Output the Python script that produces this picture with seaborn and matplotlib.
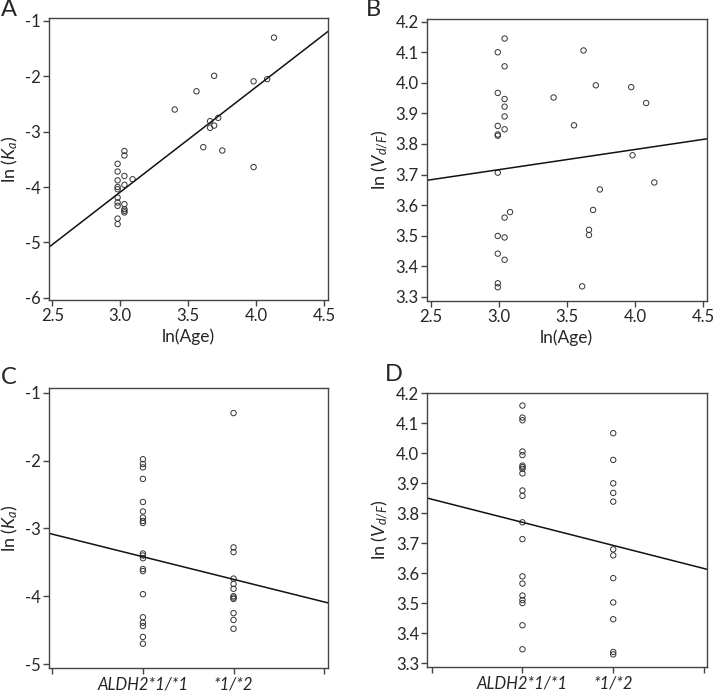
import numpy as np
import pandas as pd
import matplotlib
matplotlib.use("Agg")
import matplotlib.pyplot as plt
import seaborn as sns

# --- values ---
# panel A: ln(Age) vs ln(Ka)
a_ln_age = [4.13, 3.69, 3.56, 3.98, 4.08, 3.40, 3.72, 3.66, 3.69, 3.66, 3.61, 3.75, 3.98,
            2.98, 2.98, 2.98, 2.98, 2.98, 2.98, 2.98, 2.98, 2.98, 2.98,
            3.03, 3.03, 3.03, 3.03, 3.03, 3.03, 3.03, 3.03, 3.09]
a_ln_ka = [-1.30, -1.99, -2.27, -2.09, -2.05, -2.60, -2.75, -2.81, -2.89, -2.93, -3.28, -3.34, -3.64,
           -3.58, -3.72, -3.88, -4.00, -4.04, -4.19, -4.28, -4.34, -4.57, -4.67,
           -3.35, -3.43, -3.80, -3.96, -4.31, -4.40, -4.43, -4.46, -3.86]

# panel B: ln(Age) vs ln(Vd/F)
b_ln_age = [3.04, 2.99, 3.04, 2.99, 3.04, 3.04, 3.04, 2.99, 3.04, 2.99,
            2.99, 2.99, 3.08, 3.04, 2.99, 3.04, 2.99, 3.04, 2.99, 2.99,
            3.62, 3.71, 3.40, 3.55, 3.97, 4.08, 3.98, 4.14, 3.74, 3.69,
            3.66, 3.66, 3.61]
b_ln_vd = [4.145, 4.100, 4.054, 3.967, 3.947, 3.922, 3.890, 3.859, 3.848, 3.831,
           3.827, 3.706, 3.577, 3.559, 3.499, 3.494, 3.441, 3.421, 3.344, 3.331,
           4.106, 3.992, 3.952, 3.861, 3.986, 3.934, 3.763, 3.674, 3.651, 3.584,
           3.519, 3.502, 3.334]

# panels C/D: by ALDH2 genotype (1 = *1/*1, 2 = *1/*2)
c_wt = [-1.98, -2.05, -2.10, -2.27, -2.61, -2.75, -2.84, -2.89, -2.92, -3.37,
        -3.40, -3.44, -3.60, -3.63, -3.97, -4.31, -4.39, -4.44, -4.60, -4.70]
c_het = [-1.30, -3.28, -3.35, -3.74, -3.82, -3.89, -4.00, -4.02, -4.04, -4.25, -4.35, -4.48]
d_wt = [4.159, 4.119, 4.110, 4.006, 3.994, 3.959, 3.954, 3.948, 3.933, 3.876,
        3.858, 3.770, 3.714, 3.590, 3.566, 3.526, 3.511, 3.501, 3.427, 3.347]
d_het = [4.067, 3.978, 3.900, 3.868, 3.839, 3.680, 3.660, 3.584, 3.503, 3.447, 3.338, 3.330]
geno_ticks = [0, 1, 2, 3]
geno_labels = ["", "ALDH2*1/*1", "*1/*2", ""]

# fitted lines (intercept, slope)
fit_a = (-9.79, 1.90)
fit_b = (3.518, 0.066)
fit_c = (-3.085, -0.333)
fit_d = (3.847, -0.077)

df_c = pd.DataFrame({"geno": [1] * len(c_wt) + [2] * len(c_het), "val": c_wt + c_het})
df_d = pd.DataFrame({"geno": [1] * len(d_wt) + [2] * len(d_het), "val": d_wt + d_het})

sns.set_style("white")
plt.rcParams["font.family"] = ["Lato", "DejaVu Sans"]
plt.rcParams["mathtext.fontset"] = "custom"
plt.rcParams["mathtext.it"] = "Lato:italic"
plt.rcParams["mathtext.rm"] = "Lato"

fig = plt.figure(figsize=(7.13, 6.95), dpi=100)
ax_a = fig.add_axes([0.0694, 0.5683, 0.3906, 0.4058])
ax_b = fig.add_axes([0.5985, 0.5669, 0.3927, 0.4058])
ax_c = fig.add_axes([0.0692, 0.0388, 0.3906, 0.4024])
ax_d = fig.add_axes([0.5993, 0.0399, 0.3927, 0.3951])

pt = dict(marker="o", s=15, facecolor="none", edgecolor="#333333", linewidth=0.7)

sns.scatterplot(x=a_ln_age, y=a_ln_ka, ax=ax_a, **pt)
sns.scatterplot(x=b_ln_age, y=b_ln_vd, ax=ax_b, **pt)
sns.scatterplot(data=df_c, x="geno", y="val", ax=ax_c, **pt)
sns.scatterplot(data=df_d, x="geno", y="val", ax=ax_d, **pt)

for ax, fit in [(ax_a, fit_a), (ax_b, fit_b), (ax_c, fit_c), (ax_d, fit_d)]:
    ax.axline((0, fit[0]), slope=fit[1], color="#111111", lw=1.1)

ax_a.set_xlim(2.479, 4.527)
ax_a.set_ylim(-6.042, -0.946)
ax_a.set_yticks([-6, -5, -4, -3, -2, -1])
ax_a.set_yticklabels(["-6", "-5", "-4", "-3", "-2", "-1"])

ax_b.set_xlim(2.468, 4.525)
ax_b.set_ylim(3.286, 4.209)
ax_b.set_yticks(np.arange(3.3, 4.21, 0.1))

for ax in (ax_a, ax_b):
    ax.set_xticks([2.5, 3.0, 3.5, 4.0, 4.5])
    ax.set_xticklabels(["2.5", "3.0", "3.5", "4.0", "4.5"])
    ax.set_xlabel("ln(Age)", fontsize=12.5, labelpad=3)

ax_c.set_xlim(-0.033, 3.041)
ax_c.set_ylim(-5.059, -0.935)
ax_c.set_yticks([-5, -4, -3, -2, -1])
ax_c.set_yticklabels(["-5", "-4", "-3", "-2", "-1"])

ax_d.set_xlim(-0.048, 3.036)
ax_d.set_ylim(3.287, 4.202)
ax_d.set_yticks(np.arange(3.3, 4.21, 0.1))

for ax in (ax_c, ax_d):
    ax.set_xticks(geno_ticks)
    ax.set_xticklabels(geno_labels, fontstyle="italic", fontsize=13.5)
    ax.set_xlabel("")

for ax in (ax_b, ax_d):
    ax.yaxis.set_major_formatter(matplotlib.ticker.FormatStrFormatter("%.1f"))
    ax.set_ylabel(r"ln ($V_{d/F}$)", fontsize=13, labelpad=4)
for ax in (ax_a, ax_c):
    ax.set_ylabel(r"ln ($K_a$)", fontsize=13, labelpad=4)

for ax in (ax_a, ax_b, ax_c, ax_d):
    for sp in ax.spines.values():
        sp.set_color("#444444")
        sp.set_linewidth(1.0)
    ax.tick_params(axis="both", which="major", direction="out", length=4, width=1,
                   color="#444444", labelsize=12, pad=2, bottom=True, left=True,
                   top=False, right=False)

fig.text(1 / 713, 1 - 16 / 695, "A", fontsize=17)
fig.text(366 / 713, 1 - 16 / 695, "B", fontsize=17)
fig.text(1 / 713, 1 - 384 / 695, "C", fontsize=17)
fig.text(385 / 713, 1 - 381 / 695, "D", fontsize=17)

fig.savefig("out.png", dpi=100)
